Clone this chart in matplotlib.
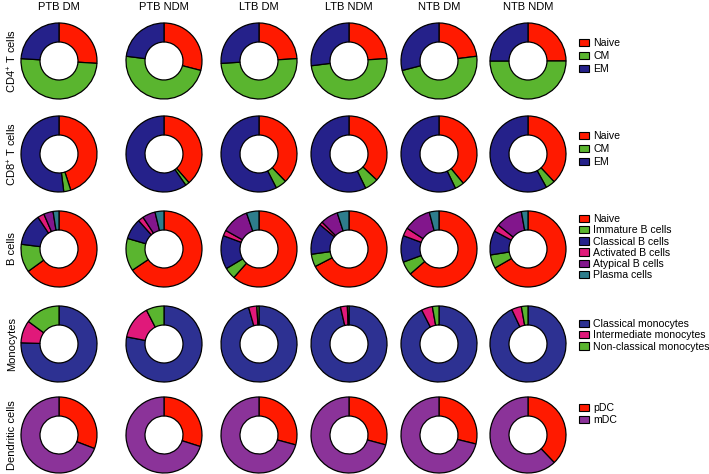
import matplotlib
matplotlib.use("Agg")
import matplotlib.pyplot as plt
from matplotlib.patches import Patch

plt.rcParams['font.family'] = ['Liberation Sans', 'DejaVu Sans']
plt.rcParams['mathtext.fontset'] = 'custom'
plt.rcParams['mathtext.rm'] = 'Liberation Sans'

groups = ["PTB DM", "PTB NDM", "LTB DM", "LTB NDM", "NTB DM", "NTB NDM"]
row_labels = ["CD4$^{+}$ T cells", "CD8$^{+}$ T cells", "B cells", "Monocytes", "Dendritic cells"]

# percentages, one list per group (clockwise from 12 o'clock)
cd4_labels = ["Naive", "CM", "EM"]
cd4 = [[26, 50, 24], [29, 48, 23], [24, 50, 26],
       [24, 49, 27], [23, 48, 29], [25, 50, 25]]

cd8_labels = ["Naive", "CM", "EM"]
cd8 = [[45, 3, 52], [38.6, 1.7, 59.7], [37.8, 4.7, 57.5],
       [37, 5.8, 57.2], [39, 3.9, 57.1], [38, 4, 58]]

b_labels = ["Naive", "Immature B cells", "Classical B cells",
            "Activated B cells", "Atypical B cells", "Plasma cells"]
bcells = [[65, 12, 13.7, 2.8, 4, 2.5],
          [65.6, 13.9, 8.9, 2.3, 5.5, 3.8],
          [61.5, 4.9, 14.3, 2.4, 11.6, 5.3],
          [67.4, 5.4, 13.3, 1.4, 7.5, 5],
          [63.6, 5.8, 11.3, 3.5, 11.7, 4.1],
          [66.7, 5.8, 10.3, 3, 11.4, 2.8]]

mono_labels = ["Classical monocytes", "Intermediate monocytes", "Non-classical monocytes"]
mono = [[75.5, 9.6, 14.9], [78, 14.4, 7.6], [95.6, 3.5, 0.9],
        [96.4, 2.9, 0.7], [92.5, 4.7, 2.8], [93, 4.2, 2.8]]

dc_labels = ["pDC", "mDC"]
dc = [[30.8, 69.2], [29.9, 70.1], [29.2, 70.8],
      [29.2, 70.8], [28.8, 71.2], [37.9, 62.1]]

red = "#ff1a00"
green = "#5ab52f"
navy = "#25218a"
pink = "#e0197a"
purple = "#82168c"
teal = "#2e7d8c"
mblue = "#2d3192"
dcpurple = "#8b3399"

rows = [
    (cd4, cd4_labels, [red, green, navy]),
    (cd8, cd8_labels, [red, green, navy]),
    (bcells, b_labels, [red, green, navy, pink, purple, teal]),
    (mono, mono_labels, [mblue, pink, green]),
    (dc, dc_labels, [red, dcpurple]),
]

W, H = 709, 474
col_x = [59, 164, 259, 349, 439, 528]
row_y = [61, 154, 249, 344, 435]
legend_top = [38, 131, 214, 319, 403]
legend_gap = [0.3, 0.3, 0.12, 0.12, 0.2]
R = 40

fig = plt.figure(figsize=(W / 100, H / 100), dpi=100)

for c, g in enumerate(groups):
    fig.text(col_x[c] / W, 1 - 7 / H, g, ha="center", va="center", fontsize=8)

for r, (data, labels, colors) in enumerate(rows):
    fig.text(12 / W, 1 - row_y[r] / H, row_labels[r], rotation=90,
             ha="center", va="center", fontsize=8)
    for c in range(len(groups)):
        ax = fig.add_axes([(col_x[c] - R) / W, 1 - (row_y[r] + R) / H, 2 * R / W, 2 * R / H])
        ax.pie(data[c], colors=colors, startangle=90, counterclock=False,
               radius=0.95, wedgeprops=dict(width=0.475, edgecolor="black", linewidth=0.9))
        ax.set_xlim(-1, 1)
        ax.set_ylim(-1, 1)
        ax.set_aspect("equal")
        ax.axis("off")
    handles = [Patch(facecolor=col, edgecolor="black", linewidth=0.8) for col in colors]
    fig.legend(handles, labels, loc="upper left",
               bbox_to_anchor=(579 / W, 1 - legend_top[r] / H),
               frameon=False, fontsize=7.6, borderpad=0, borderaxespad=0,
               handlelength=0.95, handleheight=0.7, handletextpad=0.4,
               labelspacing=legend_gap[r])

fig.savefig("out.png", dpi=100)
